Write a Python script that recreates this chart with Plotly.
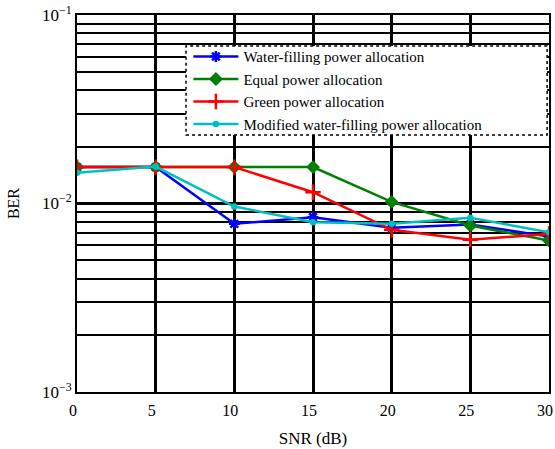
import plotly.graph_objects as go

snr = [0, 5, 10, 15, 20, 25, 30]
water_filling = [0.0156, 0.0156, 0.0078, 0.00846, 0.00743, 0.00774, 0.00668]
equal_power = [0.0156, 0.0156, 0.0156, 0.0156, 0.0102, 0.00764, 0.00636]
green_power = [0.0156, 0.0156, 0.0156, 0.01148, 0.00725, 0.00642, 0.0069]
modified_wf = [0.01455, 0.0157, 0.00964, 0.00796, 0.0078, 0.0084, 0.00704]

names = ["Water-filling power allocation", "Equal power allocation",
         "Green power allocation", "Modified water-filling power allocation"]
series = [water_filling, equal_power, green_power, modified_wf]
colors = ["#0000ff", "#008000", "#ff0000", "#00bfbf"]
symbols = ["asterisk-open", "diamond", "cross-thin-open", "circle"]
sizes = [9, 8, 11, 4]

fig = go.Figure()
for n, s, c, sym, sz in zip(names, series, colors, symbols, sizes):
    fig.add_trace(go.Scatter(
        x=snr, y=s, name=n, mode="lines+markers",
        line=dict(color=c, width=2.5),
        marker=dict(symbol=sym, size=sz, color=c, line=dict(color=c, width=2.5)),
    ))

font = "Liberation Serif, Times New Roman, serif"
fig.update_layout(
    width=555, height=449,
    margin=dict(l=77, r=6, t=15, b=57),
    paper_bgcolor="white", plot_bgcolor="white",
    font=dict(family=font, size=16, color="black"),
    showlegend=True,
    legend=dict(x=0.236, y=0.933, xanchor="left", yanchor="top",
                bgcolor="rgba(0,0,0,0)", borderwidth=0,
                font=dict(family=font, size=15, color="black"),
                itemwidth=45, tracegroupgap=0),
    xaxis=dict(
        range=[0, 30], tickvals=[0, 5, 10, 15, 20, 25, 30],
        showgrid=True, gridcolor="black", gridwidth=2.5,
        showline=True, linecolor="black", linewidth=2, mirror=True,
        ticks="inside", ticklen=4, tickcolor="black",
        zeroline=False, automargin=False, ticklabeloverflow="allow",
        ticklabelstandoff=3, ticklabelshift=-4,
        title=dict(text="SNR (dB)", standoff=14, font=dict(family=font, size=17)),
        tickfont=dict(family=font, size=16),
    ),
    yaxis=dict(
        type="log", range=[-3, -1],
        tickvals=[0.001, 0.01, 0.1],
        ticktext=["10<sup>−3</sup>", "10<sup>−2</sup>", "10<sup>−1</sup>"],
        showgrid=True, gridcolor="black", gridwidth=3,
        minor=dict(showgrid=True, gridcolor="black", gridwidth=2,
                   tickvals=[k * 10 ** e for e in (-3, -2) for k in range(2, 10)],
                   ticks="inside", ticklen=4, tickcolor="black"),
        showline=True, linecolor="black", linewidth=2, mirror=True,
        ticks="inside", ticklen=6, tickcolor="black",
        zeroline=False, automargin=False, ticklabeloverflow="allow",
        title=dict(text="BER", standoff=18, font=dict(family=font, size=16)),
        tickfont=dict(family=font, size=17),
    ),
)

# white legend box with dotted frame (legend itself is drawn on top)
fig.add_shape(type="rect", xref="paper", yref="paper",
              x0=0.231, x1=0.996, y0=0.682, y1=0.918,
              fillcolor="white",
              line=dict(color="black", width=1.5, dash="dot"), layer="above")

fig.write_html("out.html", config={"displayModeBar": False},
               post_script="document.body.style.margin='0px';")
